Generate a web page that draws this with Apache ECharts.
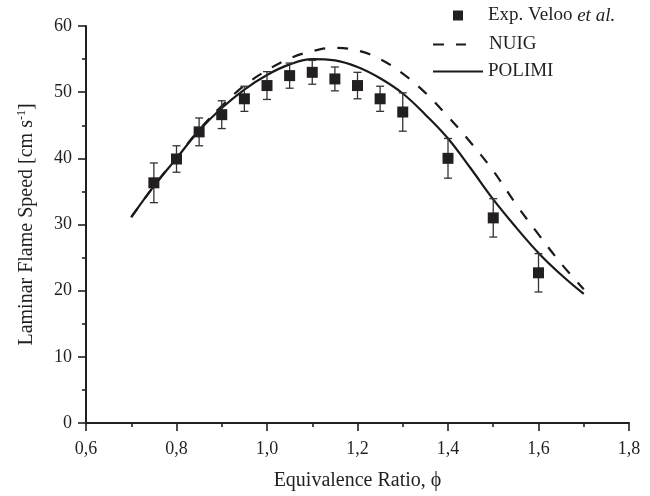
<!DOCTYPE html>
<html><head><meta charset="utf-8">
<script src="https://cdn.jsdelivr.net/npm/echarts@6/dist/echarts.min.js"></script>
<style>html,body{margin:0;padding:0;background:#fff}#c{width:650px;height:496px}</style>
</head><body><div id="c"></div>
<script>
// Experimental data (Exp. Veloo et al.)
const phiExp   = [0.75, 0.80, 0.85, 0.90, 0.95, 1.00, 1.05, 1.10, 1.15, 1.20, 1.25, 1.30, 1.40, 1.50, 1.60];
const speedExp = [36.3, 39.9, 44.0, 46.6, 49.0, 51.0, 52.5, 53.0, 52.0, 51.0, 49.0, 47.0, 40.0, 31.0, 22.7];
const errExp   = [3.0, 2.0, 2.1, 2.1, 1.9, 2.1, 1.9, 1.8, 1.8, 2.0, 1.9, 2.9, 3.0, 2.9, 2.9];
// Model curves
const phiModel = [0.70, 0.75, 0.80, 0.85, 0.90, 0.95, 1.00, 1.05, 1.10, 1.15, 1.20, 1.25, 1.30, 1.35, 1.40, 1.45, 1.50, 1.55, 1.60, 1.65, 1.70];
const nuig     = [31.1, 35.8, 40.1, 44.3, 47.9, 51.0, 53.3, 55.1, 56.2, 56.7, 56.3, 55.0, 52.8, 49.9, 46.3, 42.4, 38.1, 33.1, 28.5, 24.1, 20.2];
const polimi   = [31.1, 35.8, 40.0, 44.2, 47.6, 50.4, 52.6, 54.2, 55.0, 54.8, 53.8, 52.1, 49.8, 46.6, 43.0, 38.5, 33.8, 29.6, 25.7, 22.4, 19.5];
// Axis settings
const xMin = 0.6, xMax = 1.8, xStep = 0.2;
const yMin = 0, yMax = 60, yStep = 10;

const FONT = 'Liberation Serif';
const INK = '#231f20';

const chart = echarts.init(document.getElementById('c'), null, {renderer: 'canvas'});
const expData = phiExp.map((p, i) => [p, speedExp[i]]);
const errData = phiExp.map((p, i) => [p, speedExp[i] - errExp[i], speedExp[i] + errExp[i]]);

const legendText = {fontFamily: FONT, fontSize: 19, color: INK};

chart.setOption({
  animation: false,
  backgroundColor: '#fff',
  grid: {left: 86, right: 21, top: 26, bottom: 68},
  xAxis: {
    type: 'value', min: xMin, max: xMax, interval: xStep,
    name: 'Equivalence Ratio, \u03D5', nameLocation: 'middle', nameGap: 48,
    nameTextStyle: {fontFamily: FONT, fontSize: 20, color: INK},
    axisLine: {lineStyle: {color: INK, width: 2}},
    axisTick: {show: true, length: 8, lineStyle: {color: INK, width: 1.6}},
    minorTick: {show: true, splitNumber: 2, length: 4, lineStyle: {color: INK, width: 1.6}},
    splitLine: {show: false},
    axisLabel: {fontFamily: FONT, fontSize: 18, color: INK, margin: 17,
      formatter: v => v.toFixed(1).replace('.', ',')}
  },
  yAxis: {
    type: 'value', min: yMin, max: yMax, interval: yStep,
    name: 'Laminar Flame Speed [cm s{sup|-1}]', nameLocation: 'middle', nameGap: 49,
    nameTextStyle: {fontFamily: FONT, fontSize: 20, color: INK,
      rich: {sup: {fontFamily: FONT, fontSize: 12, color: INK, verticalAlign: 'top', padding: [0, 0, 9, 0]}}},
    axisLine: {show: true, lineStyle: {color: INK, width: 2}},
    axisTick: {show: true, length: 8, lineStyle: {color: INK, width: 1.6}},
    minorTick: {show: true, splitNumber: 2, length: 4, lineStyle: {color: INK, width: 1.6}},
    splitLine: {show: false},
    axisLabel: {fontFamily: FONT, fontSize: 18, color: INK, margin: 14}
  },
  legend: [
    {data: ['Exp. Veloo et al.'], left: 453, top: 6, padding: 0, itemWidth: 10, itemHeight: 10,
     formatter: () => 'Exp. Veloo {i|et al.}',
     textStyle: Object.assign({padding: [0, 0, 0, 20],
       rich: {i: {fontFamily: FONT, fontSize: 19, color: INK, fontStyle: 'italic'}}}, legendText)},
    {data: ['NUIG'], left: 432, top: 35, padding: 0, itemWidth: 33, itemHeight: 14,
     itemStyle: {opacity: 0},
     textStyle: Object.assign({padding: [0, 0, 0, 18]}, legendText)},
    {data: ['POLIMI'], left: 432, top: 62, padding: 0, itemWidth: 50, itemHeight: 14,
     itemStyle: {opacity: 0},
     textStyle: Object.assign({padding: [0, 0, 0, 0]}, legendText)}
  ],
  series: [
    {name: 'NUIG', type: 'line', data: phiModel.map((p, i) => [p, nuig[i]]),
     showSymbol: false, symbol: 'none', smooth: 0.4, z: 2,
     lineStyle: {color: '#1a1a1a', width: 2.2, type: [11, 12]}, itemStyle: {color: '#1a1a1a'}},
    {name: 'POLIMI', type: 'line', data: phiModel.map((p, i) => [p, polimi[i]]),
     showSymbol: false, symbol: 'none', smooth: 0.4, z: 3,
     lineStyle: {color: '#1a1a1a', width: 2.2, type: 'solid'}, itemStyle: {color: '#1a1a1a'}},
    {name: 'err', type: 'custom', data: errData, z: 4,
     renderItem: (params, api) => {
       const x = api.value(0);
       const lo = api.coord([x, api.value(1)]);
       const hi = api.coord([x, api.value(2)]);
       const w = 4;
       const st = {stroke: '#333333', lineWidth: 1.3};
       return {type: 'group', children: [
         {type: 'line', shape: {x1: lo[0], y1: lo[1], x2: hi[0], y2: hi[1]}, style: st},
         {type: 'line', shape: {x1: lo[0] - w, y1: lo[1], x2: lo[0] + w, y2: lo[1]}, style: st},
         {type: 'line', shape: {x1: hi[0] - w, y1: hi[1], x2: hi[0] + w, y2: hi[1]}, style: st}
       ]};
     }},
    {name: 'Exp. Veloo et al.', type: 'scatter', data: expData, symbol: 'rect', symbolSize: 11, z: 5,
     itemStyle: {color: INK, opacity: 1}}
  ]
});
</script></body></html>
